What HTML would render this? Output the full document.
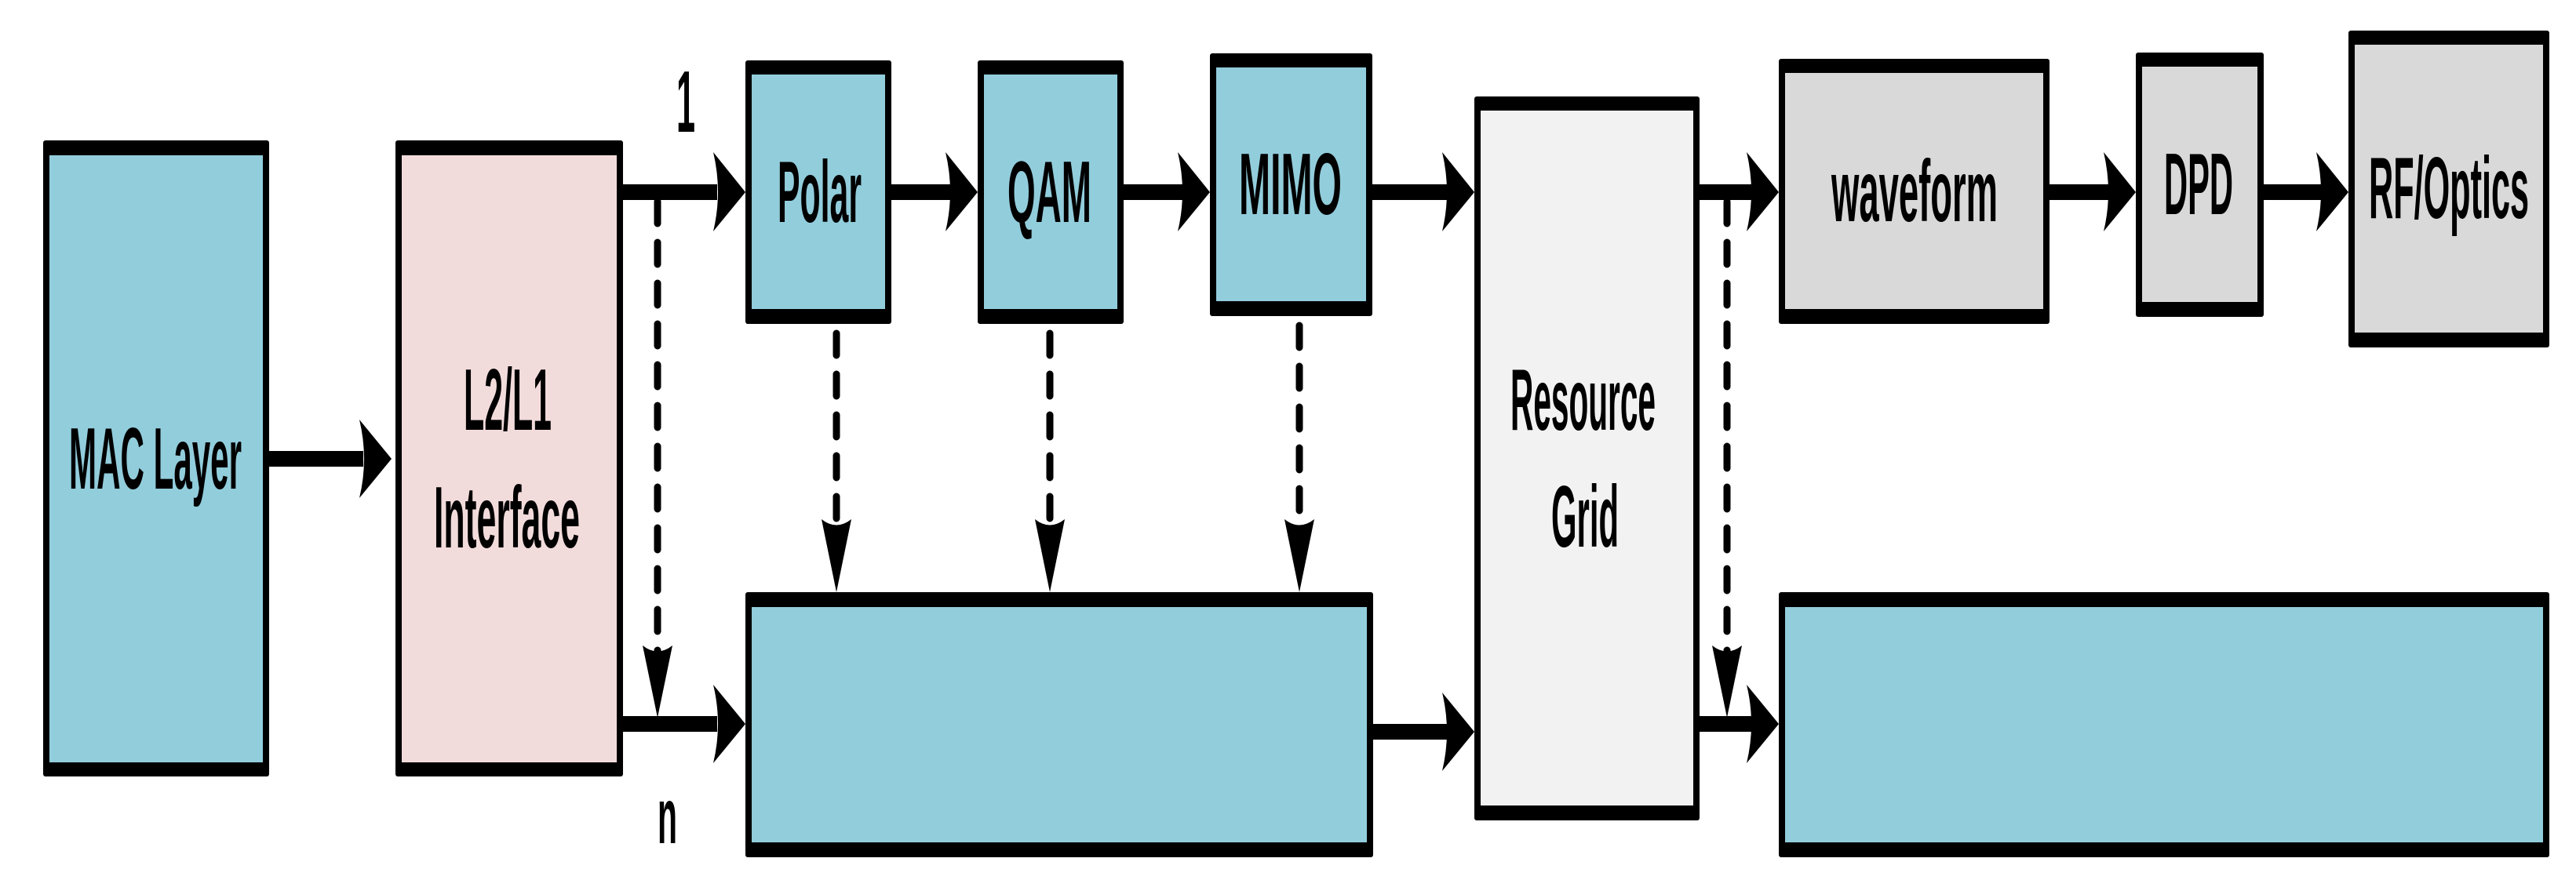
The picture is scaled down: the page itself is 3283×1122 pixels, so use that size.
<!DOCTYPE html>
<html><head><meta charset="utf-8"><style>
html,body{margin:0;padding:0;background:#fff;}
svg{display:block;}
text{font-family:"Liberation Sans",sans-serif;font-weight:bold;fill:#000;}
</style></head><body>
<svg width="3283" height="1122" viewBox="0 0 3283 1122" xmlns="http://www.w3.org/2000/svg">
<g>
<rect x="55" y="179" width="288" height="811" rx="3" fill="#000"/><rect x="63" y="198" width="272" height="774" fill="#92cddc"/>
<rect x="504" y="179" width="290" height="811" rx="3" fill="#000"/><rect x="512" y="198" width="274" height="774" fill="#f2dcdb"/>
<rect x="950" y="77" width="186" height="336" rx="3" fill="#000"/><rect x="958" y="95" width="170" height="299" fill="#92cddc"/>
<rect x="1246" y="77" width="186" height="336" rx="3" fill="#000"/><rect x="1254" y="95" width="170" height="299" fill="#92cddc"/>
<rect x="1542" y="68" width="207" height="335" rx="3" fill="#000"/><rect x="1550" y="86" width="191" height="298" fill="#92cddc"/>
<rect x="950" y="755" width="800" height="338" rx="3" fill="#000"/><rect x="958" y="774" width="784" height="300" fill="#92cddc"/>
<rect x="1879" y="123" width="287" height="923" rx="3" fill="#000"/><rect x="1887" y="141" width="271" height="886" fill="#f2f2f2"/>
<rect x="2267" y="75" width="345" height="338" rx="3" fill="#000"/><rect x="2275" y="93" width="329" height="301" fill="#d9d9d9"/>
<rect x="2722" y="67" width="163" height="337" rx="3" fill="#000"/><rect x="2730" y="85" width="147" height="300" fill="#d9d9d9"/>
<rect x="2993" y="39" width="256" height="404" rx="3" fill="#000"/><rect x="3001" y="57" width="240" height="367" fill="#d9d9d9"/>
<rect x="2267" y="755" width="982" height="338" rx="3" fill="#000"/><rect x="2275" y="774" width="966" height="300" fill="#92cddc"/>
</g>
<g fill="#000">
<rect x="343" y="575" width="120" height="20"/><path d="M499,585 L458,535 Q470,585 458,635 Z"/>
<rect x="794" y="235" width="120" height="20"/><path d="M950,245 L909,194 Q921,245 909,295 Z"/>
<rect x="1136" y="235" width="75" height="20"/><path d="M1246,245 L1205,194 Q1217,245 1205,295 Z"/>
<rect x="1432" y="235" width="75" height="20"/><path d="M1542,245 L1501,194 Q1513,245 1501,295 Z"/>
<rect x="1749" y="235" width="95" height="20"/><path d="M1879,245 L1838,194 Q1850,245 1838,295 Z"/>
<rect x="2166" y="235" width="66" height="20"/><path d="M2267,245 L2226,194 Q2238,245 2226,295 Z"/>
<rect x="2612" y="235" width="75" height="20"/><path d="M2722,245 L2681,194 Q2693,245 2681,295 Z"/>
<rect x="2885" y="235" width="73" height="20"/><path d="M2993,245 L2952,194 Q2964,245 2952,295 Z"/>
<rect x="794" y="913" width="120" height="20"/><path d="M950,923 L909,873 Q921,923 909,973 Z"/>
<rect x="1749" y="923" width="95" height="20"/><path d="M1879,933 L1838,883 Q1850,933 1838,983 Z"/>
<rect x="2166" y="913" width="66" height="20"/><path d="M2267,923 L2226,873 Q2238,923 2226,973 Z"/>
</g>
<g stroke="#000" stroke-width="9" stroke-linecap="round" stroke-dasharray="28 24" fill="none">
<line x1="838" y1="257" x2="838" y2="830"/>
<line x1="1066" y1="425" x2="1066" y2="665"/>
<line x1="1338" y1="425" x2="1338" y2="665"/>
<line x1="1656" y1="415" x2="1656" y2="665"/>
<line x1="2201" y1="257" x2="2201" y2="830"/>
</g>
<g fill="#000">
<path d="M838,915 L819,823 Q838,838 857,823 Z"/>
<path d="M1066,755 L1047,662 Q1066,677 1085,662 Z"/>
<path d="M1338,755 L1319,662 Q1338,677 1357,662 Z"/>
<path d="M1656,755 L1637,662 Q1656,677 1675,662 Z"/>
<path d="M2201,915 L2182,823 Q2201,838 2220,823 Z"/>
</g>
<g font-size="111">
<text x="88" y="623" textLength="220" lengthAdjust="spacingAndGlyphs">MAC Layer</text>
<text x="591" y="548" textLength="112" lengthAdjust="spacingAndGlyphs">L2/L1</text>
<text x="553" y="698" textLength="186" lengthAdjust="spacingAndGlyphs">Interface</text>
<text x="1925" y="548" textLength="185" lengthAdjust="spacingAndGlyphs">Resource</text>
<text x="1977" y="697" textLength="86" lengthAdjust="spacingAndGlyphs">Grid</text>
<text x="991" y="283" textLength="107" lengthAdjust="spacingAndGlyphs">Polar</text>
<text x="1284" y="283" textLength="107" lengthAdjust="spacingAndGlyphs">QAM</text>
<text x="1579" y="273" textLength="131" lengthAdjust="spacingAndGlyphs">MIMO</text>
<text x="2334" y="282" textLength="212" lengthAdjust="spacingAndGlyphs">waveform</text>
<text x="2758" y="273" textLength="88" lengthAdjust="spacingAndGlyphs">DPD</text>
<text x="3019" y="278" textLength="204" lengthAdjust="spacingAndGlyphs">RF/Optics</text>
<text x="862" y="168" textLength="24" lengthAdjust="spacingAndGlyphs">1</text>
</g>
<text x="838" y="1075" font-size="100" textLength="25" lengthAdjust="spacingAndGlyphs">n</text>
</svg>
</body></html>
